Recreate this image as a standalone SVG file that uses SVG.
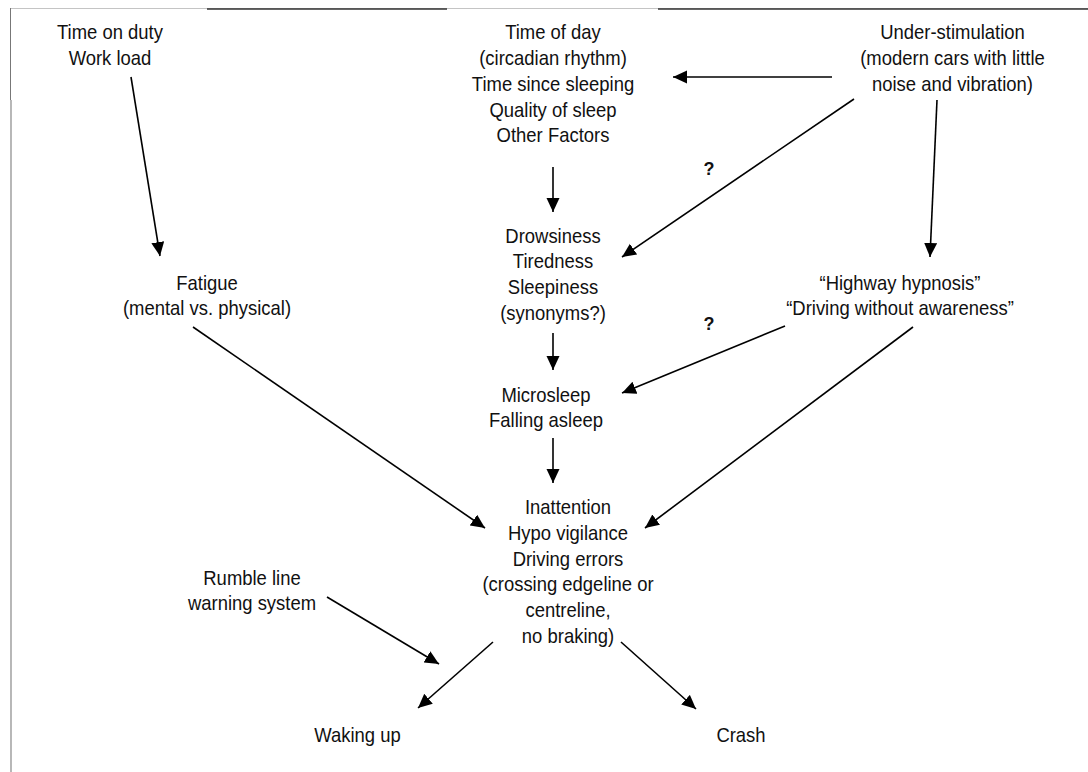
<svg xmlns="http://www.w3.org/2000/svg" width="1088" height="772" viewBox="0 0 1088 772">
<style>
.t{font-family:"Liberation Sans",Arial,sans-serif;font-size:20.5px;fill:#111;text-anchor:middle}
.q{font-family:"Liberation Sans",Arial,sans-serif;font-size:18px;font-weight:bold;fill:#111;text-anchor:middle}
.c line{stroke:#000;stroke-width:1.6;marker-end:url(#ah)}
</style>
<defs>
<marker id="ah" markerUnits="userSpaceOnUse" markerWidth="15" markerHeight="14" refX="14" refY="6.5" orient="auto">
<path d="M0,0 L14,6.5 L0,13 z" fill="#000"/>
</marker>
</defs>
<rect width="1088" height="772" fill="#fff"/>
<g id="border">
<line x1="10" y1="8.5" x2="1088" y2="8.5" stroke="#c4c4c4" stroke-width="1"/>
<line x1="207" y1="9" x2="447" y2="9" stroke="#333" stroke-width="1.3"/>
<line x1="658" y1="9" x2="1088" y2="9" stroke="#333" stroke-width="1.3"/>
<line x1="10.5" y1="8" x2="10.5" y2="100" stroke="#777" stroke-width="1"/>
<line x1="11" y1="100" x2="11" y2="772" stroke="#888" stroke-width="1.2"/>
</g>
<g id="n-duty" transform="translate(110,0) scale(0.9,1)"><text class="t"><tspan x="0" y="39.3">Time on duty</tspan><tspan x="0" y="65.1">Work load</tspan></text></g>
<g id="n-time" transform="translate(553,0) scale(0.9,1)"><text class="t"><tspan x="0" y="39.3">Time of day</tspan><tspan x="0" y="65.1">(circadian rhythm)</tspan><tspan x="0" y="90.9">Time since sleeping</tspan><tspan x="0" y="116.7">Quality of sleep</tspan><tspan x="0" y="142.5">Other Factors</tspan></text></g>
<g id="n-under" transform="translate(952.5,0) scale(0.9,1)"><text class="t"><tspan x="0" y="39.3">Under-stimulation</tspan><tspan x="0" y="65.1">(modern cars with little</tspan><tspan x="0" y="90.9">noise and vibration)</tspan></text></g>
<g id="n-drowsy" transform="translate(553,0) scale(0.9,1)"><text class="t"><tspan x="0" y="242.7">Drowsiness</tspan><tspan x="0" y="268.5">Tiredness</tspan><tspan x="0" y="294.3">Sleepiness</tspan><tspan x="0" y="320.1">(synonyms?)</tspan></text></g>
<g id="n-fatigue" transform="translate(207,0) scale(0.9,1)"><text class="t"><tspan x="0" y="289.7">Fatigue</tspan><tspan x="0" y="315.5">(mental vs. physical)</tspan></text></g>
<g id="n-highway" transform="translate(900,0) scale(0.9,1)"><text class="t"><tspan x="0" y="289.7">“Highway hypnosis”</tspan><tspan x="0" y="315.5">“Driving without awareness”</tspan></text></g>
<g id="n-micro" transform="translate(546,0) scale(0.9,1)"><text class="t"><tspan x="0" y="401.6">Microsleep</tspan><tspan x="0" y="427.4">Falling asleep</tspan></text></g>
<g id="n-inatt" transform="translate(568,0) scale(0.9,1)"><text class="t"><tspan x="0" y="514">Inattention</tspan><tspan x="0" y="539.8">Hypo vigilance</tspan><tspan x="0" y="565.6">Driving errors</tspan><tspan x="0" y="591.4">(crossing edgeline or</tspan><tspan x="0" y="617.2">centreline,</tspan><tspan x="0" y="643">no braking)</tspan></text></g>
<g id="n-rumble" transform="translate(252,0) scale(0.9,1)"><text class="t"><tspan x="0" y="584.7">Rumble line</tspan><tspan x="0" y="610.5">warning system</tspan></text></g>
<g id="n-waking" transform="translate(357.5,0) scale(0.9,1)"><text class="t" x="0" y="742">Waking up</text></g>
<g id="n-crash" transform="translate(741,0) scale(0.9,1)"><text class="t" x="0" y="742">Crash</text></g>
<g id="labels">
<text class="q" x="709" y="175">?</text>
<text class="q" x="709" y="330">?</text>
</g>
<g id="connectors" class="c">
<line x1="131" y1="77" x2="160" y2="256"/>
<line x1="832" y1="77" x2="673" y2="77"/>
<line x1="854" y1="99" x2="622" y2="257"/>
<line x1="553" y1="167" x2="553" y2="212"/>
<line x1="937" y1="100" x2="930" y2="257"/>
<line x1="553" y1="333" x2="553" y2="370"/>
<line x1="785" y1="326" x2="622" y2="393"/>
<line x1="553" y1="438" x2="553" y2="483"/>
<line x1="193" y1="327" x2="485" y2="528"/>
<line x1="913" y1="327" x2="645" y2="528"/>
<line x1="327" y1="597" x2="439" y2="664"/>
<line x1="493" y1="642" x2="418" y2="708"/>
<line x1="621" y1="642" x2="696" y2="709"/>
</g>
</svg>
